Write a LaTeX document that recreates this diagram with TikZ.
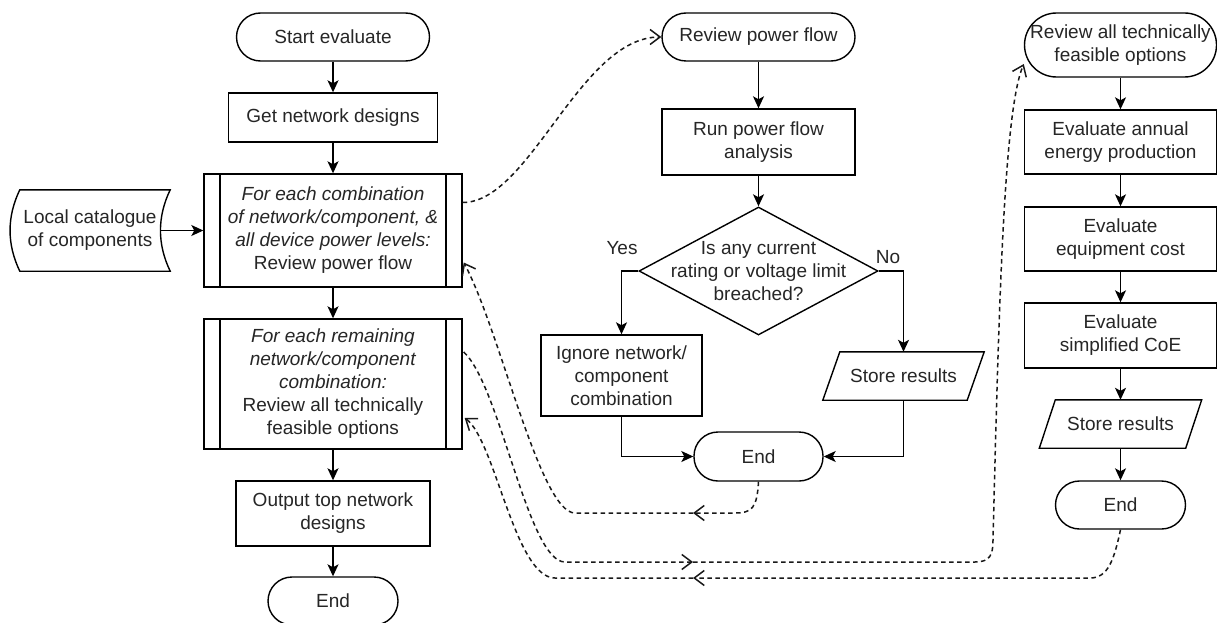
\documentclass[tikz,border=0pt]{standalone}
\usepackage{fontspec}
\setmainfont{Liberation Sans}
\usetikzlibrary{arrows.meta,calc,shapes.geometric}
\begin{document}
\begin{tikzpicture}[x=1pt,y=-1pt,
  every node/.style={font=\fontsize{19}{23}\selectfont, text=black!85, align=center, inner sep=0pt},
  shapeline/.style={line width=1.4pt, draw=black},
  procbox/.style={shapeline, rectangle},
  termbox/.style={shapeline, rectangle, rounded corners=24pt},
  predef/.style={procbox, path picture={
      \draw[line width=1.4pt] ([xshift=16pt]path picture bounding box.north west) -- ([xshift=16pt]path picture bounding box.south west);
      \draw[line width=1.4pt] ([xshift=-16pt]path picture bounding box.north east) -- ([xshift=-16pt]path picture bounding box.south east);}},
  flow/.style={line width=1.4pt, -{Stealth[length=12pt,width=11pt,inset=3pt]}},
  feedback/.style={line width=1.5pt, draw=black!90, dash pattern=on 4.5pt off 3.5pt, -{Straight Barb[length=10pt,width=15pt]}},
]
\fill[white] (0,0) rectangle (1217,623);
\useasboundingbox (0,0) rectangle (1217,623);

% ---------- left column: main evaluation loop ----------
\node[termbox, minimum width=193pt, minimum height=48pt] (start) at (333,37) {Start evaluate};
\node[procbox, minimum width=209pt, minimum height=49pt] (get) at (333,117.5) {Get network designs};
\node[predef, minimum width=258pt, minimum height=113pt] (p1) at (333,230.5)
  {\textit{For each combination}\\\textit{of network/component, \&}\\\textit{all device power levels:}\\Review power flow};
\node[minimum width=160pt, minimum height=81pt] (cat) at (90,230.5) {Local catalogue\\of components};
\node[predef, minimum width=258pt, minimum height=130pt] (p2) at (333,384)
  {\textit{For each remaining}\\\textit{network/component}\\\textit{combination:}\\Review all technically\\feasible options};
\node[procbox, minimum width=194pt, minimum height=65pt] (out) at (333,513.5) {Output top network\\designs};
\node[termbox, minimum width=130pt, minimum height=48pt] (end1) at (333,601) {End};

% stored-data outline of the catalogue
\draw[shapeline] ($(cat.north west)+(10,0)$) -- (cat.north east)
  .. controls ($(cat.north east)+(-13,27)$) and ($(cat.south east)+(-13,-27)$) .. (cat.south east)
  -- ($(cat.south west)+(10,0)$)
  .. controls ($(cat.south west)+(-3,-27)$) and ($(cat.north west)+(-3,27)$) .. ($(cat.north west)+(10,0)$) -- cycle;

% ---------- middle column: power flow review ----------
\node[termbox, minimum width=193pt, minimum height=48pt] (rpf) at (758.5,37) {Review power flow};
\node[procbox, minimum width=193pt, minimum height=66pt] (run) at (758.5,142) {Run power flow\\analysis};
\node[shapeline, diamond, minimum width=239pt, minimum height=128pt] (dia) at (758.5,271) {};
\node (diatext) at (dia.center) {Is any current\\rating or voltage limit\\breached?};
\node (yes) at (622,248) {Yes};
\node (no) at (888,257) {No};
\node[procbox, minimum width=161pt, minimum height=81pt] (ign) at (621.5,375.5) {Ignore network/\\component\\combination};
\node[minimum width=161pt, minimum height=48pt] (st1) at (903.5,376) {Store results};
\draw[shapeline] (st1.south west) -- ($(st1.north west)+(17,0)$) -- (st1.north east) -- ($(st1.south east)+(-17,0)$) -- cycle;
\node[termbox, minimum width=129pt, minimum height=49pt] (endM) at (758.5,456.5) {End};

% ---------- right column: feasible options review ----------
\node[termbox, rounded corners=32pt, minimum width=192pt, minimum height=64pt] (rev2) at (1120.5,45) {Review all technically\\feasible options};
\node[procbox, minimum width=192pt, minimum height=64pt] (ann) at (1120.5,142) {Evaluate annual\\energy production};
\node[procbox, minimum width=192pt, minimum height=64pt] (equ) at (1120.5,239) {Evaluate\\equipment cost};
\node[procbox, minimum width=192pt, minimum height=65pt] (coe) at (1120.5,335.5) {Evaluate\\simplified CoE};
\node[minimum width=162pt, minimum height=48pt] (st2) at (1120.5,424) {Store results};
\draw[shapeline] (st2.south west) -- ($(st2.north west)+(16,0)$) -- (st2.north east) -- ($(st2.south east)+(-16,0)$) -- cycle;
\node[termbox, minimum width=130pt, minimum height=48pt] (endR) at (1120.5,505) {End};

% ---------- solid flow ----------
\draw[flow] (start.south) -- (get.north);
\draw[flow] (get.south) -- (p1.north);
\draw[flow] ($(cat.east)+(-10,0)$) -- (p1.west);
\draw[flow] (p1.south) -- (p2.north);
\draw[flow] (p2.south) -- (out.north);
\draw[flow] (out.south) -- (end1.north);
\draw[flow] (rpf.south) -- (run.north);
\draw[flow] (run.south) -- (dia.north);
\draw[flow] (dia.west) -| (ign.north);
\draw[flow] (dia.east) -| (st1.north);
\draw[flow] (ign.south) |- (endM.west);
\draw[flow] (st1.south) |- (endM.east);
\draw[flow] (rev2.south) -- (ann.north);
\draw[flow] (ann.south) -- (equ.north);
\draw[flow] (equ.south) -- (coe.north);
\draw[flow] (coe.south) -- (st2.north);
\draw[flow] (st2.south) -- (endR.north);

% ---------- dashed sub-process links ----------
\coordinate (bm) at (693,513);
\coordinate (cm) at (693,562);
\coordinate (dm) at (693,578);

\draw[feedback] ($(p1.east)+(0,-28)$) .. controls (530,202.5) and (580,37) .. (rpf.west);

\draw[feedback] (endM.south) .. controls (757,508) and (752,513) .. (735,513) -- (bm);
\draw[feedback] (bm) -- (575,513) .. controls (540,513) and (500,330) .. ($(p1.east)+(1,32)$);

\draw[feedback] ($(p2.east)+(1,-32)$) .. controls (500,385) and (528,562) .. (565,562) -- (cm);
\draw[feedback] (cm) -- (975,562) .. controls (990,562) and (993,555) .. (993,540)
  .. controls (999,300) and (1004,110) .. ($(rev2.west)+(0,19)$);

\draw[feedback] (endR.south) .. controls (1114,560) and (1108,578) .. (1090,578) -- (dm);
\draw[feedback] (dm) -- (555,578) .. controls (515,578) and (495,440) .. ($(p2.east)+(2,34)$);
\end{tikzpicture}
\end{document}
